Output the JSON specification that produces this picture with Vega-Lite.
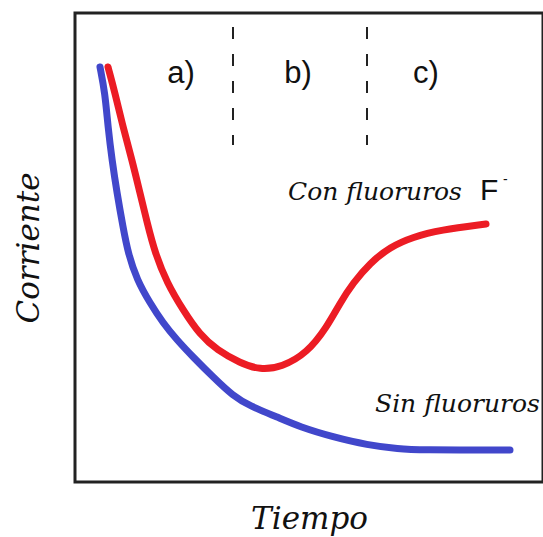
{
  "$schema": "https://vega.github.io/schema/vega-lite/v6.json",
  "autosize": "none",
  "width": 468,
  "height": 469,
  "padding": {"left": 75, "top": 13, "right": 0, "bottom": 55},
  "background": "white",
  "config": {
    "view": {"stroke": "#222", "strokeWidth": 3},
    "axis": {"domain": false, "ticks": false, "labels": false, "grid": false,
             "titleFont": "DejaVu Serif", "titleFontStyle": "italic", "titleFontWeight": "normal",
             "titleColor": "#111", "titleFontSize": 31}
  },
  "datasets": {
    "curves": [
      {"serie": "Sin", "x": 25, "y": 415}, {"serie": "Sin", "x": 30, "y": 389}, {"serie": "Sin", "x": 33, "y": 355},
      {"serie": "Sin", "x": 37, "y": 322}, {"serie": "Sin", "x": 42, "y": 289}, {"serie": "Sin", "x": 48, "y": 255},
      {"serie": "Sin", "x": 53, "y": 229}, {"serie": "Sin", "x": 62, "y": 202}, {"serie": "Sin", "x": 75, "y": 179},
      {"serie": "Sin", "x": 88, "y": 159}, {"serie": "Sin", "x": 102, "y": 142}, {"serie": "Sin", "x": 118, "y": 125},
      {"serie": "Sin", "x": 138, "y": 105}, {"serie": "Sin", "x": 158, "y": 86}, {"serie": "Sin", "x": 175, "y": 76},
      {"serie": "Sin", "x": 202, "y": 65}, {"serie": "Sin", "x": 225, "y": 55}, {"serie": "Sin", "x": 258, "y": 45},
      {"serie": "Sin", "x": 292, "y": 37}, {"serie": "Sin", "x": 325, "y": 33}, {"serie": "Sin", "x": 342, "y": 32},
      {"serie": "Sin", "x": 435, "y": 32},
      {"serie": "Con", "x": 33, "y": 415}, {"serie": "Con", "x": 40, "y": 389}, {"serie": "Con", "x": 48, "y": 355},
      {"serie": "Con", "x": 57, "y": 322}, {"serie": "Con", "x": 65, "y": 289}, {"serie": "Con", "x": 72, "y": 260},
      {"serie": "Con", "x": 80, "y": 229}, {"serie": "Con", "x": 92, "y": 199}, {"serie": "Con", "x": 108, "y": 172},
      {"serie": "Con", "x": 125, "y": 147}, {"serie": "Con", "x": 142, "y": 132}, {"serie": "Con", "x": 165, "y": 119},
      {"serie": "Con", "x": 185, "y": 112}, {"serie": "Con", "x": 207, "y": 115}, {"serie": "Con", "x": 232, "y": 129},
      {"serie": "Con", "x": 252, "y": 155}, {"serie": "Con", "x": 265, "y": 179}, {"serie": "Con", "x": 278, "y": 199},
      {"serie": "Con", "x": 295, "y": 219}, {"serie": "Con", "x": 315, "y": 235}, {"serie": "Con", "x": 338, "y": 245},
      {"serie": "Con", "x": 365, "y": 252}, {"serie": "Con", "x": 411, "y": 258}
    ],
    "dashes": [
      {"x": 158, "y": 455, "y2": 337},
      {"x": 292, "y": 455, "y2": 337}
    ],
    "phases": [
      {"x": 106, "y": 399, "label": "a)"},
      {"x": 223, "y": 399, "label": "b)"},
      {"x": 351, "y": 399, "label": "c)"}
    ],
    "names": [
      {"x": 213, "y": 282, "label": "Con fluoruros"},
      {"x": 300, "y": 70, "label": "Sin fluoruros"}
    ],
    "ion": [{"x": 405, "y": 282, "label": "F"}],
    "charge": [{"x": 428, "y": 298, "label": "-"}]
  },
  "encoding": {
    "x": {"field": "x", "type": "quantitative", "scale": {"domain": [0, 468], "nice": false, "zero": false},
          "axis": {"title": "Tiempo", "titleBaseline": "top", "titlePadding": 22}},
    "y": {"field": "y", "type": "quantitative", "scale": {"domain": [0, 469], "nice": false, "zero": false},
          "axis": {"title": "Corriente", "titleBaseline": "alphabetic", "titlePadding": 37}}
  },
  "layer": [
    {
      "data": {"name": "curves"},
      "mark": {"type": "line", "interpolate": "basis", "strokeWidth": 7, "strokeCap": "round", "strokeJoin": "round"},
      "encoding": {
        "detail": {"field": "serie"},
        "color": {"field": "serie", "type": "nominal", "scale": {"domain": ["Sin", "Con"], "range": ["#4147CB", "#EC1C24"]}, "legend": null}
      }
    },
    {
      "data": {"name": "dashes"},
      "mark": {"type": "rule", "stroke": "#222", "strokeWidth": 2, "strokeDash": [12, 15]},
      "encoding": {"y2": {"field": "y2"}}
    },
    {
      "data": {"name": "phases"},
      "mark": {"type": "text", "font": "Liberation Sans", "fontSize": 31, "align": "center", "baseline": "alphabetic", "color": "#111"},
      "encoding": {"text": {"field": "label"}}
    },
    {
      "data": {"name": "names"},
      "mark": {"type": "text", "font": "DejaVu Serif", "fontStyle": "italic", "fontSize": 25, "align": "left", "baseline": "alphabetic", "color": "#111"},
      "encoding": {"text": {"field": "label"}}
    },
    {
      "data": {"name": "ion"},
      "mark": {"type": "text", "font": "Liberation Sans", "fontSize": 30, "align": "left", "baseline": "alphabetic", "color": "#111"},
      "encoding": {"text": {"field": "label"}}
    },
    {
      "data": {"name": "charge"},
      "mark": {"type": "text", "font": "Liberation Sans", "fontSize": 14, "align": "left", "baseline": "alphabetic", "color": "#111"},
      "encoding": {"text": {"field": "label"}}
    }
  ]
}
